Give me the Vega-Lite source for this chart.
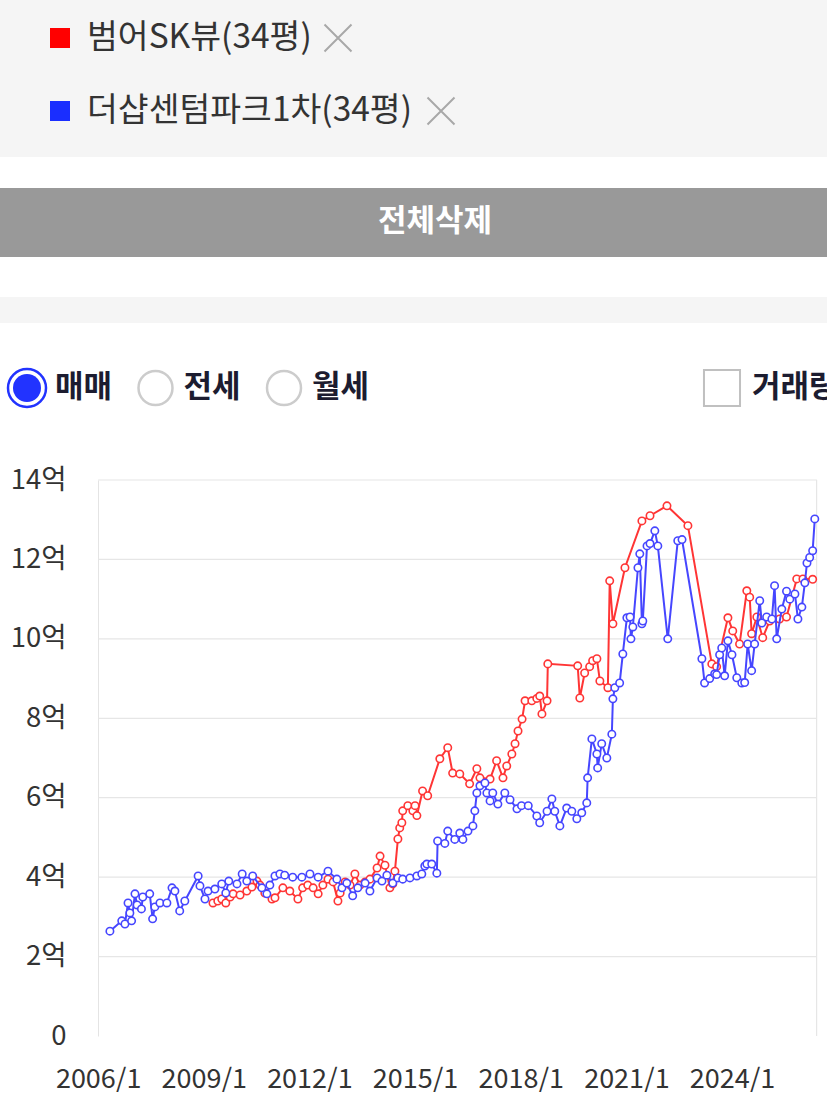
{
  "$schema": "https://vega.github.io/schema/vega-lite/v6.json",
  "padding": 0,
  "spacing": 0,
  "background": "white",
  "config": {
    "view": {"stroke": null},
    "font": "Noto Sans CJK KR",
    "text": {"font": "Noto Sans CJK KR"},
    "axis": {"labelFont": "Noto Sans CJK KR"},
    "axisX": {"format": "%Y/%-m", "labelFontSize": 27, "labelColor": "#333333", "grid": false, "ticks": false, "domain": false, "labelFlush": false, "labelPadding": 30, "labelOverlap": false},
    "axisY": {"labelFontSize": 27.5, "labelColor": "#333333", "grid": false, "domainColor": "#e4e4e4", "offset": -98, "ticks": false, "labelPadding": 32}
  },
  "datasets": {
    "series": [
      {"name": "범어SK뷰(34평)"},
      {"name": "더샵센텀파크1차(34평)"}
    ],
    "options": [
      {"item": "매매", "kind": "radio", "selected": true},
      {"item": "전세", "kind": "radio", "selected": false},
      {"item": "월세", "kind": "radio", "selected": false},
      {"item": "거래량", "kind": "check", "selected": false}
    ],
    "button": [{"label": "전체삭제"}],
    "blank": [{"label": ""}],
    "gridticks": [{"tick": 2}, {"tick": 4}, {"tick": 6}, {"tick": 8}, {"tick": 10}, {"tick": 12}, {"tick": 14}],
    "beomeo": [
      {"date": "2009-04-06", "price": 3.35},
      {"date": "2009-05-26", "price": 3.40},
      {"date": "2009-07-06", "price": 3.45},
      {"date": "2009-08-17", "price": 3.35},
      {"date": "2009-10-01", "price": 3.50},
      {"date": "2009-11-01", "price": 3.58},
      {"date": "2010-01-12", "price": 3.55},
      {"date": "2010-03-23", "price": 3.65},
      {"date": "2010-05-15", "price": 3.75},
      {"date": "2010-07-06", "price": 3.90},
      {"date": "2010-08-06", "price": 3.80},
      {"date": "2010-09-26", "price": 3.60},
      {"date": "2010-12-09", "price": 3.45},
      {"date": "2011-01-09", "price": 3.48},
      {"date": "2011-04-01", "price": 3.73},
      {"date": "2011-06-12", "price": 3.65},
      {"date": "2011-09-04", "price": 3.45},
      {"date": "2011-10-23", "price": 3.73},
      {"date": "2011-12-15", "price": 3.80},
      {"date": "2012-02-09", "price": 3.73},
      {"date": "2012-04-01", "price": 3.58},
      {"date": "2012-05-20", "price": 3.80},
      {"date": "2012-07-12", "price": 3.95},
      {"date": "2012-09-03", "price": 3.88},
      {"date": "2012-10-23", "price": 3.40},
      {"date": "2012-11-15", "price": 3.60},
      {"date": "2013-01-06", "price": 3.88},
      {"date": "2013-02-26", "price": 3.80},
      {"date": "2013-04-17", "price": 4.08},
      {"date": "2013-06-09", "price": 3.80},
      {"date": "2013-08-01", "price": 3.88},
      {"date": "2013-09-20", "price": 3.95},
      {"date": "2013-12-03", "price": 4.23},
      {"date": "2014-01-03", "price": 4.53},
      {"date": "2014-02-23", "price": 4.30},
      {"date": "2014-04-15", "price": 3.73},
      {"date": "2014-05-15", "price": 3.83},
      {"date": "2014-06-06", "price": 4.15},
      {"date": "2014-07-07", "price": 4.96},
      {"date": "2014-07-26", "price": 5.24},
      {"date": "2014-08-17", "price": 5.37},
      {"date": "2014-08-26", "price": 5.67},
      {"date": "2014-10-18", "price": 5.80},
      {"date": "2014-12-09", "price": 5.67},
      {"date": "2015-01-01", "price": 5.80},
      {"date": "2015-01-20", "price": 5.55},
      {"date": "2015-03-20", "price": 6.17},
      {"date": "2015-05-12", "price": 6.05},
      {"date": "2015-09-15", "price": 6.98},
      {"date": "2015-12-06", "price": 7.26},
      {"date": "2016-01-26", "price": 6.62},
      {"date": "2016-04-09", "price": 6.60},
      {"date": "2016-07-20", "price": 6.35},
      {"date": "2016-10-03", "price": 6.73},
      {"date": "2016-11-04", "price": 6.50},
      {"date": "2017-02-17", "price": 6.47},
      {"date": "2017-04-26", "price": 6.93},
      {"date": "2017-07-01", "price": 6.50},
      {"date": "2017-08-09", "price": 6.80},
      {"date": "2017-10-01", "price": 7.10},
      {"date": "2017-11-03", "price": 7.36},
      {"date": "2017-12-04", "price": 7.68},
      {"date": "2018-01-15", "price": 7.98},
      {"date": "2018-02-15", "price": 8.44},
      {"date": "2018-04-26", "price": 8.44},
      {"date": "2018-06-17", "price": 8.50},
      {"date": "2018-07-17", "price": 8.56},
      {"date": "2018-08-09", "price": 8.11},
      {"date": "2018-10-01", "price": 8.44},
      {"date": "2018-10-09", "price": 9.37},
      {"date": "2019-08-15", "price": 9.32},
      {"date": "2019-09-06", "price": 8.51},
      {"date": "2019-10-26", "price": 9.14},
      {"date": "2019-12-17", "price": 9.30},
      {"date": "2020-01-17", "price": 9.45},
      {"date": "2020-03-01", "price": 9.50},
      {"date": "2020-04-01", "price": 8.94},
      {"date": "2020-06-23", "price": 8.77},
      {"date": "2020-07-12", "price": 11.46},
      {"date": "2020-08-14", "price": 10.38},
      {"date": "2020-12-17", "price": 11.79},
      {"date": "2021-06-11", "price": 12.97},
      {"date": "2021-09-03", "price": 13.10},
      {"date": "2022-02-26", "price": 13.35},
      {"date": "2022-10-01", "price": 12.85},
      {"date": "2023-06-06", "price": 9.37},
      {"date": "2023-07-26", "price": 9.30},
      {"date": "2023-11-20", "price": 10.53},
      {"date": "2024-01-09", "price": 10.20},
      {"date": "2024-03-20", "price": 9.87},
      {"date": "2024-06-03", "price": 11.21},
      {"date": "2024-07-03", "price": 11.05},
      {"date": "2024-07-23", "price": 10.13},
      {"date": "2024-09-15", "price": 10.55},
      {"date": "2024-11-15", "price": 10.03},
      {"date": "2025-01-26", "price": 10.45},
      {"date": "2025-05-09", "price": 10.50},
      {"date": "2025-07-20", "price": 10.55},
      {"date": "2025-11-03", "price": 11.51},
      {"date": "2026-01-06", "price": 11.51},
      {"date": "2026-04-17", "price": 11.50}
    ],
    "thesharp": [
      {"date": "2006-05-03", "price": 2.64},
      {"date": "2006-09-03", "price": 2.90},
      {"date": "2006-10-06", "price": 2.82},
      {"date": "2006-11-07", "price": 3.35},
      {"date": "2006-11-26", "price": 3.10},
      {"date": "2006-12-14", "price": 2.90},
      {"date": "2007-01-18", "price": 3.58},
      {"date": "2007-02-09", "price": 3.30},
      {"date": "2007-03-26", "price": 3.20},
      {"date": "2007-04-09", "price": 3.50},
      {"date": "2007-06-20", "price": 3.58},
      {"date": "2007-07-20", "price": 2.95},
      {"date": "2007-08-12", "price": 3.25},
      {"date": "2007-10-04", "price": 3.35},
      {"date": "2007-12-15", "price": 3.35},
      {"date": "2008-02-06", "price": 3.73},
      {"date": "2008-03-07", "price": 3.65},
      {"date": "2008-04-26", "price": 3.15},
      {"date": "2008-06-18", "price": 3.40},
      {"date": "2008-11-03", "price": 4.03},
      {"date": "2008-11-22", "price": 3.78},
      {"date": "2009-01-13", "price": 3.45},
      {"date": "2009-02-14", "price": 3.65},
      {"date": "2009-04-26", "price": 3.70},
      {"date": "2009-07-06", "price": 3.83},
      {"date": "2009-08-17", "price": 3.60},
      {"date": "2009-09-17", "price": 3.90},
      {"date": "2009-12-11", "price": 3.83},
      {"date": "2010-02-03", "price": 4.08},
      {"date": "2010-03-23", "price": 3.90},
      {"date": "2010-05-23", "price": 4.03},
      {"date": "2010-08-26", "price": 3.73},
      {"date": "2010-10-17", "price": 3.58},
      {"date": "2010-11-17", "price": 3.80},
      {"date": "2011-01-09", "price": 4.03},
      {"date": "2011-03-01", "price": 4.08},
      {"date": "2011-04-20", "price": 4.05},
      {"date": "2011-07-12", "price": 4.00},
      {"date": "2011-10-15", "price": 4.00},
      {"date": "2012-01-07", "price": 4.08},
      {"date": "2012-04-01", "price": 4.00},
      {"date": "2012-07-12", "price": 4.15},
      {"date": "2012-10-12", "price": 3.95},
      {"date": "2012-12-04", "price": 3.73},
      {"date": "2013-01-23", "price": 3.85},
      {"date": "2013-03-25", "price": 3.53},
      {"date": "2013-05-17", "price": 3.73},
      {"date": "2013-08-01", "price": 3.85},
      {"date": "2013-09-20", "price": 3.65},
      {"date": "2013-12-03", "price": 3.98},
      {"date": "2014-01-23", "price": 3.90},
      {"date": "2014-03-15", "price": 4.05},
      {"date": "2014-05-15", "price": 3.85},
      {"date": "2014-07-07", "price": 3.98},
      {"date": "2014-08-26", "price": 3.95},
      {"date": "2014-11-09", "price": 3.98},
      {"date": "2015-01-20", "price": 4.03},
      {"date": "2015-03-12", "price": 4.08},
      {"date": "2015-04-12", "price": 4.28},
      {"date": "2015-05-03", "price": 4.33},
      {"date": "2015-06-23", "price": 4.33},
      {"date": "2015-08-15", "price": 4.10},
      {"date": "2015-08-23", "price": 4.91},
      {"date": "2015-11-06", "price": 4.85},
      {"date": "2015-12-06", "price": 5.16},
      {"date": "2016-02-17", "price": 4.95},
      {"date": "2016-04-09", "price": 5.11},
      {"date": "2016-05-11", "price": 4.95},
      {"date": "2016-07-03", "price": 5.16},
      {"date": "2016-08-23", "price": 5.29},
      {"date": "2016-09-12", "price": 5.67},
      {"date": "2016-10-03", "price": 6.12},
      {"date": "2016-11-04", "price": 6.30},
      {"date": "2016-12-26", "price": 6.37},
      {"date": "2017-01-15", "price": 6.12},
      {"date": "2017-02-17", "price": 5.92},
      {"date": "2017-03-17", "price": 6.12},
      {"date": "2017-05-09", "price": 5.84},
      {"date": "2017-07-20", "price": 6.12},
      {"date": "2017-09-12", "price": 5.95},
      {"date": "2017-11-23", "price": 5.72},
      {"date": "2018-01-09", "price": 5.80},
      {"date": "2018-03-20", "price": 5.80},
      {"date": "2018-06-17", "price": 5.54},
      {"date": "2018-07-17", "price": 5.37},
      {"date": "2018-10-01", "price": 5.66},
      {"date": "2018-11-20", "price": 5.97},
      {"date": "2018-12-20", "price": 5.66},
      {"date": "2019-02-11", "price": 5.29},
      {"date": "2019-04-23", "price": 5.74},
      {"date": "2019-06-15", "price": 5.66},
      {"date": "2019-08-06", "price": 5.47},
      {"date": "2019-09-26", "price": 5.62},
      {"date": "2019-11-17", "price": 5.87},
      {"date": "2019-11-26", "price": 6.50},
      {"date": "2020-01-09", "price": 7.48},
      {"date": "2020-03-01", "price": 7.10},
      {"date": "2020-03-09", "price": 6.75},
      {"date": "2020-04-20", "price": 7.36},
      {"date": "2020-06-12", "price": 7.00},
      {"date": "2020-08-03", "price": 7.60},
      {"date": "2020-08-14", "price": 8.49},
      {"date": "2020-09-03", "price": 8.77},
      {"date": "2020-10-23", "price": 8.89},
      {"date": "2020-11-25", "price": 9.62},
      {"date": "2021-01-06", "price": 10.53},
      {"date": "2021-02-08", "price": 10.55},
      {"date": "2021-02-17", "price": 10.00},
      {"date": "2021-03-09", "price": 10.30},
      {"date": "2021-05-01", "price": 11.79},
      {"date": "2021-05-20", "price": 12.14},
      {"date": "2021-06-11", "price": 10.38},
      {"date": "2021-06-20", "price": 10.45},
      {"date": "2021-08-03", "price": 12.34},
      {"date": "2021-09-03", "price": 12.40},
      {"date": "2021-10-23", "price": 12.72},
      {"date": "2021-11-23", "price": 12.34},
      {"date": "2022-03-06", "price": 10.00},
      {"date": "2022-06-18", "price": 12.47},
      {"date": "2022-08-01", "price": 12.50},
      {"date": "2023-02-23", "price": 9.50},
      {"date": "2023-03-23", "price": 8.89},
      {"date": "2023-05-15", "price": 9.00},
      {"date": "2023-07-06", "price": 9.12},
      {"date": "2023-07-26", "price": 9.10},
      {"date": "2023-08-26", "price": 9.60},
      {"date": "2023-09-17", "price": 9.77},
      {"date": "2023-10-17", "price": 9.07},
      {"date": "2023-11-20", "price": 9.95},
      {"date": "2024-01-01", "price": 9.60},
      {"date": "2024-02-20", "price": 9.02},
      {"date": "2024-04-12", "price": 8.89},
      {"date": "2024-05-12", "price": 8.90},
      {"date": "2024-06-12", "price": 9.87},
      {"date": "2024-07-23", "price": 9.20},
      {"date": "2024-08-23", "price": 9.87},
      {"date": "2024-10-15", "price": 10.96},
      {"date": "2024-11-06", "price": 10.40},
      {"date": "2024-12-26", "price": 10.55},
      {"date": "2025-02-18", "price": 10.50},
      {"date": "2025-03-18", "price": 11.34},
      {"date": "2025-04-09", "price": 10.00},
      {"date": "2025-06-01", "price": 10.75},
      {"date": "2025-07-20", "price": 11.20},
      {"date": "2025-08-23", "price": 11.00},
      {"date": "2025-10-15", "price": 11.13},
      {"date": "2025-11-15", "price": 10.50},
      {"date": "2025-12-26", "price": 10.80},
      {"date": "2026-01-26", "price": 11.41},
      {"date": "2026-02-17", "price": 11.91},
      {"date": "2026-03-17", "price": 12.05},
      {"date": "2026-04-17", "price": 12.22},
      {"date": "2026-05-09", "price": 13.02}
    ]
  },
  "vconcat": [
    {
      "width": 827,
      "height": 157,
      "view": {"fill": "#f5f5f5", "stroke": null},
      "data": {"name": "series"},
      "encoding": {
        "y": {"field": "name", "type": "nominal", "axis": null,
              "scale": {"type": "point", "padding": 0, "domain": ["범어SK뷰(34평)", "더샵센텀파크1차(34평)"], "range": [38, 111]}}
      },
      "layer": [
        {
          "mark": {"type": "point", "shape": "square", "size": 400, "filled": true, "opacity": 1},
          "encoding": {
            "x": {"value": 60},
            "color": {"field": "name", "type": "nominal", "legend": null,
                      "scale": {"domain": ["범어SK뷰(34평)", "더샵센텀파크1차(34평)"], "range": ["#ff0000", "#1a2eff"]}}
          }
        },
        {
          "mark": {"type": "text", "align": "left", "baseline": "middle", "fontSize": 33.5, "color": "#333333"},
          "encoding": {"x": {"value": 87}, "text": {"field": "name"}}
        },
        {
          "mark": {"type": "point", "shape": "M-1,-1L1,1M-1,1L1,-1", "size": 729, "filled": false, "stroke": "#a8a8a8", "strokeWidth": 2, "opacity": 1},
          "encoding": {
            "x": {"field": "name", "type": "nominal", "axis": null,
                  "scale": {"type": "point", "padding": 0, "domain": ["범어SK뷰(34평)", "더샵센텀파크1차(34평)"], "range": [338, 441]}}
          }
        }
      ]
    },
    {
      "width": 827, "height": 31,
      "data": {"name": "blank"},
      "mark": {"type": "text"},
      "encoding": {"text": {"field": "label"}}
    },
    {
      "width": 827, "height": 69,
      "view": {"fill": "#999999", "stroke": null},
      "data": {"name": "button"},
      "mark": {"type": "text", "align": "center", "baseline": "middle", "fontSize": 31, "fontWeight": "bold", "color": "white"},
      "encoding": {"x": {"value": 435}, "y": {"value": 34}, "text": {"field": "label"}}
    },
    {
      "width": 827, "height": 40,
      "data": {"name": "blank"},
      "mark": {"type": "text"},
      "encoding": {"text": {"field": "label"}}
    },
    {
      "width": 827, "height": 26,
      "view": {"fill": "#f5f5f5", "stroke": null},
      "data": {"name": "blank"},
      "mark": {"type": "text"},
      "encoding": {"text": {"field": "label"}}
    },
    {
      "width": 827, "height": 143,
      "data": {"name": "options"},
      "layer": [
        {
          "transform": [{"filter": "datum.kind === 'radio'"}],
          "mark": {"type": "point", "shape": "circle", "filled": true, "fill": "white", "strokeWidth": 2.5, "opacity": 1},
          "encoding": {
            "x": {"field": "item", "type": "nominal", "axis": null,
                  "scale": {"type": "point", "padding": 0, "domain": ["매매", "전세", "월세"], "range": [27, 284]}},
            "y": {"value": 65},
            "size": {"condition": {"test": "datum.selected", "value": 1444}, "value": 1156},
            "stroke": {"condition": {"test": "datum.selected", "value": "#2233ff"}, "value": "#cccccc"}
          }
        },
        {
          "transform": [{"filter": "datum.kind === 'radio' && datum.selected"}],
          "mark": {"type": "point", "shape": "circle", "size": 784, "filled": true, "fill": "#2233ff", "opacity": 1},
          "encoding": {
            "x": {"field": "item", "type": "nominal", "axis": null,
                  "scale": {"type": "point", "padding": 0, "domain": ["매매", "전세", "월세"], "range": [27, 284]}},
            "y": {"value": 65}
          }
        },
        {
          "transform": [{"filter": "datum.kind === 'radio'"}],
          "mark": {"type": "text", "align": "left", "baseline": "middle", "dx": 28, "fontSize": 31, "fontWeight": "bold", "color": "#1c1c30"},
          "encoding": {
            "x": {"field": "item", "type": "nominal", "axis": null,
                  "scale": {"type": "point", "padding": 0, "domain": ["매매", "전세", "월세"], "range": [27, 284]}},
            "y": {"value": 65},
            "text": {"field": "item"}
          }
        },
        {
          "transform": [{"filter": "datum.kind === 'check'"}],
          "mark": {"type": "point", "shape": "square", "size": 1300, "filled": true, "fill": "white", "stroke": "#c0c0c0", "strokeWidth": 2, "opacity": 1},
          "encoding": {"x": {"value": 722}, "y": {"value": 65}}
        },
        {
          "transform": [{"filter": "datum.kind === 'check'"}],
          "mark": {"type": "text", "align": "left", "baseline": "middle", "fontSize": 31, "fontWeight": "bold", "color": "#1c1c30", "clip": true},
          "encoding": {"x": {"value": 752}, "y": {"value": 65}, "text": {"field": "item"}}
        }
      ]
    },
    {
      "width": 817,
      "height": 556,
      "view": {"stroke": null},
      "layer": [
        {"data": {"name": "gridticks"},
         "mark": {"type": "rule", "color": "#e6e6e6", "strokeWidth": 1.2},
         "encoding": {
           "y": {"field": "tick", "type": "quantitative",
                 "scale": {"domain": [0, 14]},
                 "axis": {"values": [0, 2, 4, 6, 8, 10, 12, 14], "labelExpr": "datum.value == 0 ? '0' : datum.value + '억'", "title": null}},
           "x": {"datum": 1136073600000, "type": "temporal",
                 "scale": {"domain": [{"year": 2003, "month": 3, "date": 20}, {"year": 2026, "month": 6, "date": 1}]},
                 "axis": {"values": [
                   {"year": 2006, "month": 1, "date": 1},
                   {"year": 2009, "month": 1, "date": 1},
                   {"year": 2012, "month": 1, "date": 1},
                   {"year": 2015, "month": 1, "date": 1},
                   {"year": 2018, "month": 1, "date": 1},
                   {"year": 2021, "month": 1, "date": 1},
                   {"year": 2024, "month": 1, "date": 1}], "title": null}},
           "x2": {"datum": 1780272000000}
         }},
        {"data": {"name": "blank"},
         "mark": {"type": "rule", "color": "#e6e6e6", "strokeWidth": 1.2},
         "encoding": {
           "x": {"datum": 1779926400000, "type": "temporal"},
           "y": {"datum": 0, "type": "quantitative"},
           "y2": {"datum": 14}
         }},
        {"data": {"name": "beomeo"},
         "mark": {"type": "line", "color": "#ff3535", "strokeWidth": 2},
         "encoding": {
           "x": {"field": "date", "type": "temporal"},
           "y": {"field": "price", "type": "quantitative"}
         }},
        {"data": {"name": "beomeo"},
         "mark": {"type": "point", "shape": "circle", "size": 55, "filled": true, "fill": "white", "stroke": "#ff3535", "strokeWidth": 1.6, "opacity": 1},
         "encoding": {
           "x": {"field": "date", "type": "temporal"},
           "y": {"field": "price", "type": "quantitative"}
         }},
        {"data": {"name": "thesharp"},
         "mark": {"type": "line", "color": "#4646ff", "strokeWidth": 2},
         "encoding": {
           "x": {"field": "date", "type": "temporal"},
           "y": {"field": "price", "type": "quantitative"}
         }},
        {"data": {"name": "thesharp"},
         "mark": {"type": "point", "shape": "circle", "size": 55, "filled": true, "fill": "white", "stroke": "#4646ff", "strokeWidth": 1.6, "opacity": 1},
         "encoding": {
           "x": {"field": "date", "type": "temporal"},
           "y": {"field": "price", "type": "quantitative"}
         }}
      ]
    }
  ]
}
